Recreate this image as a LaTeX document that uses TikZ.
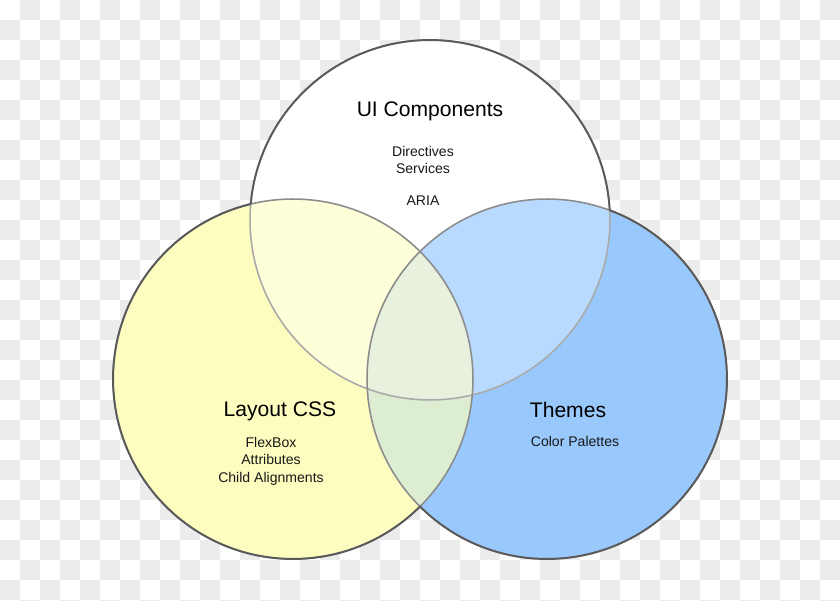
\documentclass[tikz,border=0pt]{standalone}
\usepackage{fontspec}
\setmainfont{Liberation Sans}
\usepackage{tikz}
\usetikzlibrary{positioning}
\definecolor{checkgray}{HTML}{ECECEC}
\definecolor{layoutY}{HTML}{FDFDC0}
\definecolor{themeB}{HTML}{99C9FC}
\definecolor{uiY}{HTML}{FEFED8}
\definecolor{uiB}{HTML}{B8DAFF}
\definecolor{lensG}{HTML}{DDEDD1}
\definecolor{coreG}{HTML}{E7F1DE}
\definecolor{rimdark}{HTML}{5A5A5A}
\definecolor{rimmid}{HTML}{8C8C8C}
\definecolor{rimlight}{HTML}{AAAAAA}
\newcommand{\rad}{3.6cm}
% clip to everything outside circle #1
\newcommand{\clipout}[1]{\begin{scope}[even odd rule]\clip (0,0) rectangle (840,601) (#1) circle[radius=\rad];}
\tikzstyle{rim}=[draw=rimdark,line width=1.1pt]
\tikzstyle{rim inner}=[draw=rimlight,line width=0.9pt]
\tikzstyle{title}=[font=\fontsize{12}{14}\selectfont,text=black]
\tikzstyle{items}=[font=\fontsize{8}{10}\selectfont,text=black!90,align=center]

\begin{document}
\begin{tikzpicture}[x=0.02cm,y=-0.02cm]
\useasboundingbox (0,0) rectangle (840,601);
% checker background
\fill[white] (0,0) rectangle (840,601);
\foreach \i in {0,...,41}
  \foreach \j in {0,...,30}{
    \pgfmathtruncatemacro\s{\i+\j}
    \ifodd\s \fill[checkgray] (20*\i,20*\j) rectangle ++(20,20);\fi
  }

\coordinate (ui) at (430,220);
\coordinate (lay) at (293,379);
\coordinate (thm) at (547,379);

% plain fills
\fill[white] (ui) circle[radius=\rad];
\fill[layoutY] (lay) circle[radius=\rad];
\fill[themeB] (thm) circle[radius=\rad];

% overlaps
\begin{scope}
  \clip (lay) circle[radius=\rad];
  \fill[lensG] (thm) circle[radius=\rad];
  \fill[uiY] (ui) circle[radius=\rad];
  \clip (thm) circle[radius=\rad];
  \fill[coreG] (ui) circle[radius=\rad];
\end{scope}
\begin{scope}
  \clip (thm) circle[radius=\rad];
  \clipout{lay}
  \fill[uiB] (ui) circle[radius=\rad];
  \end{scope}
\end{scope}

% rims, lighter inside the others
\draw[rim inner] (ui) circle[radius=\rad];
\draw[rim inner,draw=rimmid] (lay) circle[radius=\rad];
\draw[rim inner,draw=rimmid] (thm) circle[radius=\rad];
\clipout{lay}\clipout{thm}
  \draw[rim] (ui) circle[radius=\rad];
\end{scope}\end{scope}
\clipout{ui}\clipout{thm}
  \draw[rim] (lay) circle[radius=\rad];
\end{scope}\end{scope}
\clipout{ui}\clipout{lay}
  \draw[rim] (thm) circle[radius=\rad];
\end{scope}\end{scope}

% labels
\node[title] (uiT) at (430,111) {UI Components};
\node[items] (uiL) at (423,160) {Directives\\Services};
\node[items] (aria) at (423,201) {ARIA};

\node[title] (layT) at (280,411) {Layout CSS};
\node[items] (layL) at (271,461) {FlexBox\\Attributes\\Child Alignments};

\node[title] (thmT) at (568,410) {Themes};
\node[items] (thmL) at (575,441) {Color Palettes};
\end{tikzpicture}
\end{document}
